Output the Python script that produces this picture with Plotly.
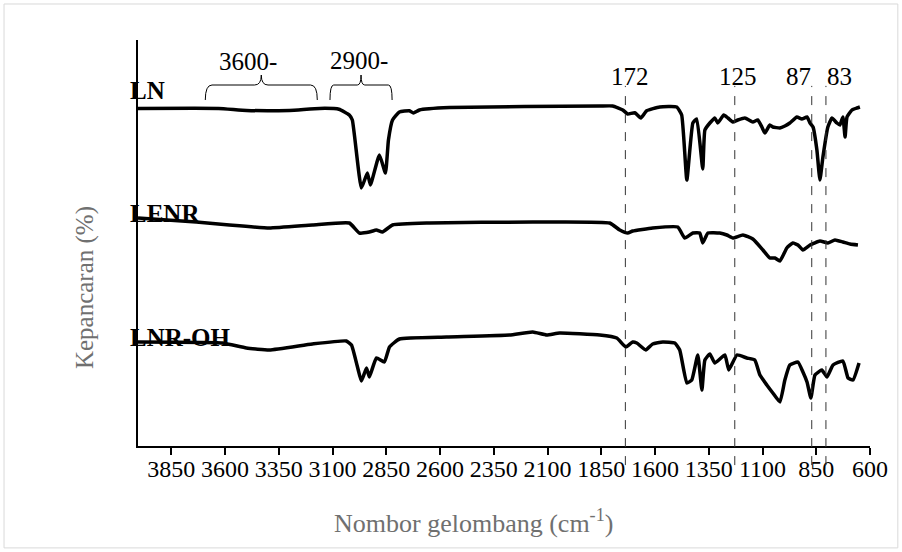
import plotly.graph_objects as go

# ---- data (wavenumber cm-1, transmittance arbitrary offset units) ----
LN_WN = [4005, 3630, 3500, 3300, 3160, 3070, 3022, 3008, 2966, 2938, 2924, 2882, 2854, 2840, 2821,
         2789, 2742, 2724, 2696, 2556, 1857, 1797, 1750, 1727, 1694, 1666, 1639, 1578, 1499, 1476,
         1452, 1424, 1406, 1378, 1368, 1345, 1322, 1308, 1280, 1261, 1238, 1215, 1182, 1145, 1122,
         1103, 1089, 1066, 1052, 1019, 996, 973, 940, 917, 893, 879, 865, 847, 833, 819, 796, 777,
         754, 740, 726, 716, 707, 684, 661, 647]
LN_T = [84.4, 84.4, 83.9, 83.9, 84.4, 84.2, 82.75, 81.5, 64.5, 68.25, 65.25, 72.75, 68.25, 76.5, 81.5,
        83.5, 83.8, 83.25, 84.0, 84.6, 85.0, 85.0, 84.0, 83.0, 83.3, 82.0, 83.8, 84.75, 84.75, 82.75,
        66.5, 80.75, 81.75, 69.25, 79.0, 80.75, 82.0, 80.75, 82.75, 82.0, 81.0, 81.5, 82.0, 81.0, 81.5,
        79.75, 78.25, 80.25, 79.75, 79.5, 80.0, 80.75, 82.25, 81.75, 82.25, 80.75, 79.75, 74.0, 66.5, 72.25,
        79.75, 82.0, 80.75, 80.25, 82.25, 77.25, 82.25, 84.0, 84.5, 84.75]

LENR_WN = [4005, 3734, 3580, 3394, 3194, 3022, 2975, 2929, 2896, 2868, 2821, 2649, 2169, 1811, 1764,
           1727, 1704, 1611, 1494, 1462, 1424, 1392, 1378, 1354, 1299, 1266, 1238, 1191, 1145, 1098,
           1066, 1042, 1019, 987, 959, 935, 912, 879, 833, 796, 763, 726, 693, 656]
LENR_T = [57.0, 56.0, 55.25, 54.5, 55.25, 55.75, 53.25, 53.5, 54.0, 53.5, 55.25, 55.75, 56.0, 55.75, 54.0,
          53.25, 53.75, 54.5, 54.75, 52.0, 53.25, 53.25, 50.75, 53.25, 53.25, 52.75, 52.0, 52.75, 51.75, 49.0,
          47.0, 47.0, 46.25, 49.5, 50.75, 50.25, 49.0, 50.25, 51.25, 50.75, 51.5, 51.0, 50.5, 50.25]

LNROH_WN = [4005, 3613, 3501, 3394, 3194, 3036, 3012, 2984, 2966, 2942, 2929, 2896, 2859, 2835, 2789,
            2570, 2277, 2169, 2104, 2044, 1857, 1778, 1736, 1704, 1685, 1643, 1611, 1564, 1508, 1485,
            1452, 1429, 1401, 1382, 1368, 1345, 1322, 1275, 1257, 1219, 1173, 1136, 1112, 1080, 1052,
            1019, 996, 973, 935, 912, 893, 875, 856, 824, 800, 772, 726, 702, 679, 651]
LNROH_T = [26.0, 25.75, 24.5, 24.0, 25.5, 26.25, 25.25, 19.75, 16.25, 19.5, 17.25, 22.0, 21.0, 24.75, 26.75,
           27.25, 27.75, 28.5, 27.75, 28.25, 27.75, 27.0, 24.75, 26.0, 25.75, 24.0, 25.5, 26.0, 25.75, 24.0,
           15.75, 16.5, 22.75, 14.0, 21.5, 23.0, 20.75, 22.75, 19.0, 22.75, 22.0, 21.5, 17.75, 15.25, 13.25,
           11.0, 16.5, 20.25, 21.0, 18.5, 16.0, 12.0, 17.75, 19.0, 17.25, 20.25, 21.25, 17.0, 16.5, 20.75]

SERIES_NAMES = ["LN", "LENR", "LNR-OH"]
SERIES_LABEL_T = [89.0, 58.25, 27.25]

BAND_WN = [1738, 1229, 871, 805]
BAND_LABELS = ["172", "125", "87", "83"]
BAND_LABEL_WN = [1718, 1215, 931, 740]
BAND_LABEL_T = 92.3

REGION_LABELS = ["3600-", "2900-"]
REGION_LABEL_WN = [3492, 2975]
REGION_LABEL_T = [96.1, 96.5]
BRACE_WN = [(3692, 3171), (3112, 2823)]
BRACE_T = (86.5, 90.25, 92.75)  # ends bottom, bar, tip

TICK_VALS = [3850, 3600, 3350, 3100, 2850, 2600, 2350, 2100, 1850, 1600, 1350, 1100, 850, 600]
X_RANGE = [4005, 600]
Y_RANGE = [0, 101.5]

SERIF = "Liberation Serif, Times New Roman, serif"

fig = go.Figure()
for wn, t in [(LN_WN, LN_T), (LENR_WN, LENR_T), (LNROH_WN, LNROH_T)]:
    fig.add_trace(go.Scatter(x=wn, y=t, mode="lines",
                             line=dict(color="black", width=3.5, shape="spline", smoothing=0.4),
                             showlegend=False, hoverinfo="skip"))

shapes = []
# dashed band lines
for wn in BAND_WN:
    shapes.append(dict(type="line", xref="x", yref="paper", x0=wn, x1=wn, y0=-0.047, y1=0.887,
                       line=dict(color="#333333", width=1, dash="dash")))
# braces
yb, ybar, ytip = BRACE_T
for (a, b) in BRACE_WN:
    c = (a + b) / 2
    d = (a - b) * 0.06
    path = (f"M {a},{yb} Q {a},{ybar} {a-d},{ybar} L {c+d},{ybar} Q {c},{ybar} {c},{ytip} "
            f"Q {c},{ybar} {c-d},{ybar} L {b+d},{ybar} Q {b},{ybar} {b},{yb}")
    shapes.append(dict(type="path", xref="x", yref="y", path=path,
                       line=dict(color="black", width=1)))
# outer border
shapes.append(dict(type="rect", xref="paper", yref="paper", x0=-0.183, x1=1.038, y0=-0.251, y1=1.0887,
                   line=dict(color="#d9d9d9", width=1)))

annotations = []
for name, t in zip(SERIES_NAMES, SERIES_LABEL_T):
    annotations.append(dict(text=f"<b>{name}</b>", xref="paper", yref="y", x=-0.013, y=t,
                            xanchor="left", yanchor="middle", showarrow=False,
                            font=dict(family=SERIF, size=25, color="black")))
for lab, wn in zip(BAND_LABELS, BAND_LABEL_WN):
    annotations.append(dict(text=lab, xref="x", yref="y", x=wn, y=BAND_LABEL_T,
                            xanchor="center", yanchor="middle", showarrow=False,
                            font=dict(family=SERIF, size=25, color="black")))
for lab, wn, t in zip(REGION_LABELS, REGION_LABEL_WN, REGION_LABEL_T):
    annotations.append(dict(text=lab, xref="x", yref="y", x=wn, y=t,
                            xanchor="center", yanchor="middle", showarrow=False,
                            font=dict(family=SERIF, size=25, color="black")))
annotations.append(dict(text="Kepancaran (%)", xref="paper", yref="paper", x=-0.0724, y=0.389,
                        textangle=-90, xanchor="center", yanchor="middle", showarrow=False,
                        font=dict(family=SERIF, size=25, color="#707070")))
annotations.append(dict(text="Nombor gelombang (cm<sup>-1</sup>)", xref="paper", yref="paper",
                        x=0.4577, y=-0.187, xanchor="center", yanchor="middle", showarrow=False,
                        font=dict(family=SERIF, size=26, color="#707070")))

fig.update_layout(
    width=902, height=552,
    margin=dict(l=138, r=32, t=40, b=106),
    paper_bgcolor="white", plot_bgcolor="white",
    shapes=shapes, annotations=annotations,
    xaxis=dict(range=X_RANGE, tickvals=TICK_VALS, ticktext=[str(v) for v in TICK_VALS],
               showline=True, linecolor="black", linewidth=2, ticks="outside", ticklen=7,
               tickwidth=2, tickcolor="black", showgrid=False, zeroline=False,
               ticklabelstandoff=-7,
               tickfont=dict(family=SERIF, size=24, color="black")),
    yaxis=dict(range=Y_RANGE, showline=True, linecolor="black", linewidth=2, showticklabels=False,
               ticks="", showgrid=False, zeroline=False),
)

fig.write_html("out.html")
